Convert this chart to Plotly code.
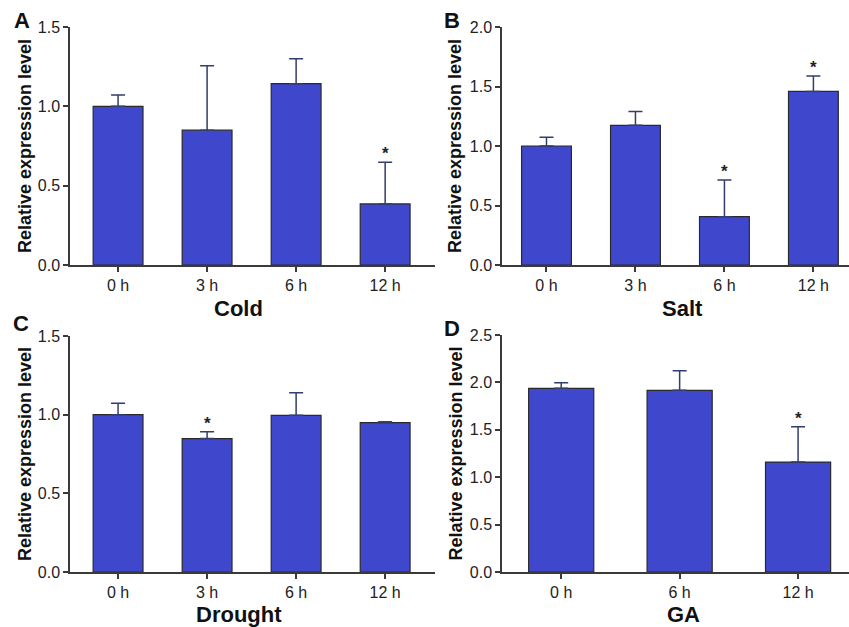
import plotly.graph_objects as go

W, H = 849, 627

# ---- data ----
cats_4 = ["0 h", "3 h", "6 h", "12 h"]
cats_3 = ["0 h", "6 h", "12 h"]

cold_vals = [1.00, 0.85, 1.143, 0.385]
cold_err = [0.071, 0.406, 0.157, 0.262]
cold_sig = [False, False, False, True]

salt_vals = [1.00, 1.174, 0.406, 1.459]
salt_err = [0.073, 0.115, 0.308, 0.129]
salt_sig = [False, False, True, True]

drought_vals = [1.00, 0.848, 0.996, 0.949]
drought_err = [0.072, 0.044, 0.144, 0.006]
drought_sig = [False, True, False, False]

ga_vals = [1.937, 1.916, 1.160]
ga_err = [0.060, 0.208, 0.373]
ga_sig = [False, False, True]

y_title = "Relative expression level"
font_fam = "Liberation Sans, Arial, Helvetica, sans-serif"
bar_color = "#3F48CC"
err_color = "#333D6E"
axis_color = "#3a3a3a"

fig = go.Figure()

panels = [
    dict(name="Cold", letter="A", cats=cats_4, vals=cold_vals, err=cold_err, sig=cold_sig,
         px=(70, 435), py=(27, 265), ymax=1.5, xr=[-0.54, 3.56], bw=0.56,
         title_xy=(238, 308), letter_xy=(22, 20), ytitle_x=25),
    dict(name="Salt", letter="B", cats=cats_4, vals=salt_vals, err=salt_err, sig=salt_sig,
         px=(502, 849), py=(27, 265), ymax=2.0, xr=[-0.50, 3.40], bw=0.56,
         title_xy=(682, 308), letter_xy=(452, 20), ytitle_x=455),
    dict(name="Drought", letter="C", cats=cats_4, vals=drought_vals, err=drought_err, sig=drought_sig,
         px=(70, 435), py=(336, 572), ymax=1.5, xr=[-0.54, 3.56], bw=0.56,
         title_xy=(239, 614), letter_xy=(21, 323), ytitle_x=25),
    dict(name="GA", letter="D", cats=cats_3, vals=ga_vals, err=ga_err, sig=ga_sig,
         px=(502, 849), py=(335, 572), ymax=2.5, xr=[-0.50, 2.43], bw=0.55,
         title_xy=(683, 614), letter_xy=(452, 328), ytitle_x=455),
]

annotations = []
for i, p in enumerate(panels, start=1):
    xa = "x" if i == 1 else f"x{i}"
    ya = "y" if i == 1 else f"y{i}"
    fig.add_trace(go.Bar(
        x=p["cats"], y=p["vals"], width=p["bw"],
        marker=dict(color=bar_color, line=dict(color="#2a2a2a", width=1.2)),
        error_y=dict(type="data", array=p["err"], symmetric=False,
                     arrayminus=[0] * len(p["err"]), color=err_color,
                     thickness=1.5, width=7),
        xaxis=xa, yaxis=ya, showlegend=False,
    ))
    dom_x = [p["px"][0] / W, p["px"][1] / W]
    dom_y = [1 - p["py"][1] / H, 1 - p["py"][0] / H]
    axkey_x = "xaxis" if i == 1 else f"xaxis{i}"
    axkey_y = "yaxis" if i == 1 else f"yaxis{i}"
    fig.update_layout({
        axkey_x: dict(domain=dom_x, anchor=ya, type="category", range=p["xr"],
                      showline=True, linecolor=axis_color, linewidth=1.5,
                      ticks="outside", ticklen=5, tickwidth=1.5, tickcolor=axis_color,
                      tickfont=dict(family=font_fam, size=16, color="#222222"),
                      showgrid=False, zeroline=False, automargin=False, fixedrange=True),
        axkey_y: dict(domain=dom_y, anchor=xa, range=[0, p["ymax"]], dtick=0.5,
                      tickformat=".1f",
                      showline=True, linecolor=axis_color, linewidth=1.5,
                      ticks="outside", ticklen=5, tickwidth=1.5, tickcolor=axis_color,
                      tickfont=dict(family=font_fam, size=16, color="#222222"),
                      showgrid=False, zeroline=False, automargin=False, fixedrange=True),
    })
    for c, v, e, s in zip(p["cats"], p["vals"], p["err"], p["sig"]):
        if s:
            annotations.append(dict(x=c, y=v + e, xref=xa, yref=ya, text="<b>*</b>",
                                    showarrow=False, yanchor="bottom", yshift=-3,
                                    font=dict(family=font_fam, size=17, color="#222222")))
    annotations.append(dict(x=p["title_xy"][0] / W, y=1 - p["title_xy"][1] / H,
                            xref="paper", yref="paper", text=f"<b>{p['name']}</b>",
                            showarrow=False, xanchor="center", yanchor="middle",
                            font=dict(family=font_fam, size=22, color="#111111")))
    annotations.append(dict(x=p["letter_xy"][0] / W, y=1 - p["letter_xy"][1] / H,
                            xref="paper", yref="paper", text=f"<b>{p['letter']}</b>",
                            showarrow=False, xanchor="center", yanchor="middle",
                            font=dict(family=font_fam, size=22, color="#111111")))
    annotations.append(dict(x=p["ytitle_x"] / W, y=1 - (p["py"][0] + p["py"][1]) / 2 / H,
                            xref="paper", yref="paper", text=f"<b>{y_title}</b>",
                            textangle=-90, showarrow=False, xanchor="center", yanchor="middle",
                            font=dict(family=font_fam, size=18, color="#111111")))

fig.update_layout(
    template="none",
    width=W, height=H, autosize=False,
    margin=dict(l=0, r=0, t=0, b=0),
    paper_bgcolor="white", plot_bgcolor="white",
    annotations=annotations,
)

fig.write_html("out.html", config={"displayModeBar": False},
               post_script="document.body.style.margin='0';")
